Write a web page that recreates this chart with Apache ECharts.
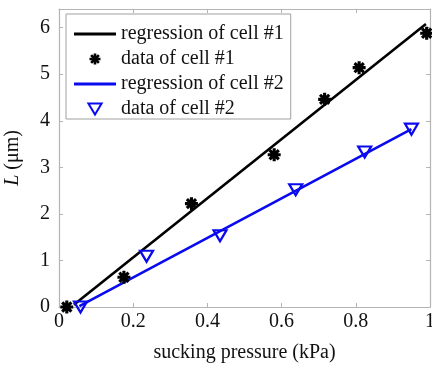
<!DOCTYPE html>
<html>
<head>
<meta charset="utf-8">
<script src="https://cdn.jsdelivr.net/npm/echarts@6/dist/echarts.min.js"></script>
<style>
  html, body { margin: 0; padding: 0; background: #fff; }
  #chart { width: 432px; height: 365px; }
</style>
</head>
<body>
<div id="chart"></div>
<script>
// values
var cell1Data = [[0.021, 0], [0.175, 0.64], [0.357, 2.22], [0.58, 3.27], [0.716, 4.46], [0.809, 5.14], [0.991, 5.88]];
var cell1Fit = [[0.04, 0.05], [0.989, 6.08]];
var cell2Data = [[0.058, 0], [0.236, 1.09], [0.434, 1.53], [0.638, 2.52], [0.824, 3.33], [0.95, 3.82]];
var cell2Fit = [[0.055, 0.02], [0.95, 3.82]];
var seriesNames = ['regression of cell #1', 'data of cell #1', 'regression of cell #2', 'data of cell #2'];
var xTicks = { min: 0, max: 1, interval: 0.2 };
var yTicks = { min: 0, max: 6.4, interval: 1 };

var font = 'Liberation Serif';
var fs = 20;
var axisGray = '#b4b4b4';
var blue = '#0a0aee';

// asterisk made of 4 overlapping bars
function asteriskPath() {
  var d = '';
  var r = 10, w = 2.4;
  for (var k = 0; k < 4; k++) {
    var a = k * Math.PI / 4;
    var c = Math.cos(a), s = Math.sin(a);
    var pts = [[-r, -w], [r, -w], [r, w], [-r, w]].map(function (p) {
      return [(p[0] * c - p[1] * s + 10).toFixed(2), (p[0] * s + p[1] * c + 10).toFixed(2)];
    });
    d += 'M' + pts[0].join(',') + ' L' + pts[1].join(',') + ' L' + pts[2].join(',') + ' L' + pts[3].join(',') + ' Z ';
  }
  return 'path://' + d;
}
var starSym = asteriskPath();
var triSym = 'path://M0,0 L12,0 L6,10 Z';
var lineSym = 'path://M0,0 L42,0 L42,2.8 L0,2.8 Z';

var myChart = echarts.init(document.getElementById('chart'));
var baseX = {
  type: 'value', min: xTicks.min, max: xTicks.max, interval: xTicks.interval,
  axisLine: { show: true, onZero: false, lineStyle: { color: axisGray, width: 1.2 } },
  axisTick: { show: true, inside: true, length: 4, lineStyle: { color: axisGray } },
  splitLine: { show: false }
};
var baseY = {
  type: 'value', min: yTicks.min, max: yTicks.max, interval: yTicks.interval,
  axisLine: { show: true, onZero: false, lineStyle: { color: axisGray, width: 1.2 } },
  axisTick: { show: true, inside: true, length: 4, lineStyle: { color: axisGray } },
  splitLine: { show: false }
};
var option = {
  animation: false,
  backgroundColor: '#fff',
  textStyle: { fontFamily: font },
  grid: { left: 59, right: 2, top: 9, bottom: 58, outerBoundsMode: 'none', containLabel: false },
  legend: {
    orient: 'vertical',
    left: 66, top: 14,
    padding: [10, 7, 0, 8],
    backgroundColor: '#fff',
    borderColor: '#a0a0a0',
    borderWidth: 1,
    itemWidth: 42, itemHeight: 11, itemGap: 5,
    textStyle: { fontFamily: font, fontSize: fs, lineHeight: 20, color: '#111' },
    data: [
      { name: seriesNames[0], icon: lineSym },
      { name: seriesNames[1], icon: starSym, itemStyle: { color: '#000', opacity: 1 } },
      { name: seriesNames[2], icon: lineSym },
      { name: seriesNames[3], icon: triSym }
    ]
  },
  xAxis: [
    Object.assign({}, baseX, {
      position: 'bottom',
      name: 'sucking pressure (kPa)', nameLocation: 'middle', nameGap: 36,
      nameTextStyle: { fontFamily: font, fontSize: fs, color: '#111' },
      axisLabel: { fontFamily: font, fontSize: fs, color: '#111', margin: 5,
        formatter: function (v) { return String(+v.toFixed(1)); } }
    }),
    Object.assign({}, baseX, { position: 'top', axisLabel: { show: false } })
  ],
  yAxis: [
    Object.assign({}, baseY, {
      position: 'left',
      name: '{i|L} (μm)', nameLocation: 'middle', nameGap: 36,
      nameTextStyle: { fontFamily: font, fontSize: fs, color: '#111',
        rich: { i: { fontFamily: font, fontSize: fs, fontStyle: 'italic', color: '#111' } } },
      axisLabel: { fontFamily: font, fontSize: fs, color: '#111', margin: 9, showMaxLabel: false }
    }),
    Object.assign({}, baseY, { position: 'right', axisLabel: { show: false } })
  ],
  series: [
    {
      name: seriesNames[0], type: 'line', data: cell1Fit, showSymbol: false, symbol: 'none',
      lineStyle: { color: '#000', width: 2.6 }, itemStyle: { color: '#000' }, z: 2
    },
    {
      name: seriesNames[1], type: 'scatter', data: cell1Data, symbol: starSym, symbolSize: 13,
      itemStyle: { color: '#000', opacity: 1 }, z: 4
    },
    {
      name: seriesNames[2], type: 'line', data: cell2Fit, showSymbol: false, symbol: 'none',
      lineStyle: { color: blue, width: 2.6 }, itemStyle: { color: blue }, z: 3
    },
    {
      name: seriesNames[3], type: 'scatter', data: cell2Data, symbol: triSym, symbolSize: [13, 11],
      itemStyle: { color: 'rgba(255,255,255,0)', borderColor: blue, borderWidth: 2.2, opacity: 1 }, z: 5
    }
  ]
};
myChart.setOption(option);
</script>
</body>
</html>
